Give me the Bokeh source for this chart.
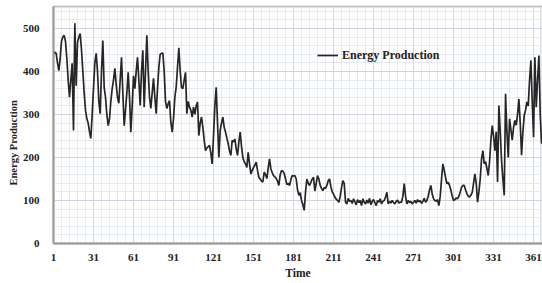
from bokeh.plotting import figure
from bokeh.models import FixedTicker, Range1d, Legend, LegendItem, ColumnDataSource, Title
from bokeh.embed import file_html
from bokeh.resources import INLINE

production = [
    440, 445, 442, 420, 402, 430, 470, 480, 484, 470, 430, 380, 340, 380, 419, 263, 512, 367, 468, 480,
    488, 450, 400, 350, 310, 290, 280, 260, 244, 300,
    360, 420, 442, 400, 330, 302, 400, 472, 363, 340, 300, 274, 290, 330, 360, 380, 407, 370, 340, 326,
    380, 433, 350, 274, 310, 350, 398, 340, 259, 320,
    390, 360, 400, 433, 380, 321, 400, 449, 317, 400, 484, 400, 340, 314, 350, 384, 340, 302, 360, 410,
    440, 442, 443, 400, 330, 314, 325, 332, 282, 259,
    290, 340, 363, 410, 455, 400, 363, 360, 380, 398, 302, 330, 317, 310, 294, 317, 300, 320, 329, 251,
    280, 294, 270, 240, 216, 222, 225, 228, 210, 185,
    250, 320, 363, 280, 200, 263, 280, 294, 270, 259, 245, 232, 215, 205, 240, 236, 243, 220, 205, 235,
    259, 225, 200, 190, 185, 177, 212, 185, 162, 170,
    177, 182, 189, 170, 154, 150, 145, 143, 166, 160, 151, 175, 197, 174, 165, 158, 155, 151, 145, 135,
    160, 170, 168, 163, 150, 137, 140, 135, 148, 158,
    157, 158, 150, 125, 112, 118, 100, 90, 77, 120, 150, 140, 135, 142, 150, 154, 122, 140, 158, 150,
    135, 128, 123, 130, 128, 135, 146, 150, 132, 120,
    115, 108, 103, 100, 96, 110, 130, 146, 140, 96, 92, 105, 98, 100, 93, 104, 97, 90, 102, 95,
    100, 88, 104, 96, 92, 101, 94, 105, 90, 98,
    102, 95, 88, 100, 96, 104, 92, 98, 100, 108, 119, 92, 98, 94, 100, 95, 92, 98, 101, 94,
    96, 96, 110, 139, 110, 92, 100, 95, 98, 92,
    96, 100, 94, 102, 97, 100, 93, 98, 105, 96, 100, 110, 125, 135, 115, 104, 100, 98, 102, 88,
    110, 150, 185, 170, 154, 139, 142, 135, 124, 110,
    100, 102, 106, 104, 110, 120, 131, 135, 135, 125, 116, 110, 108, 112, 119, 140, 162, 140, 96, 120,
    150, 197, 216, 185, 190, 175, 158, 190, 240, 274,
    250, 216, 260, 143, 321, 260, 193, 150, 112, 348, 260, 200, 290, 265, 240, 270, 286, 275, 300, 336,
    280, 205, 260, 298, 310, 329, 320, 380, 426, 330, 247, 433, 317, 380, 437, 300, 232,
]
days = list(range(1, len(production) + 1))

x_ticks = [1, 31, 61, 91, 121, 151, 181, 211, 241, 271, 301, 331, 361]
y_ticks = [0, 100, 200, 300, 400, 500]
x_minor = [d for d in range(1, 368, 6)]
y_minor = [v for v in range(0, 560, 20)]

FONT = "Liberation Serif"

p = figure(width=542, height=283, output_backend="svg", toolbar_location=None,
           x_range=Range1d(1, 367.7), y_range=Range1d(0, 551),
           min_border_left=53, min_border_right=0, min_border_top=6, min_border_bottom=40)

src = ColumnDataSource(dict(day=days, value=production))
r = p.line("day", "value", source=src, line_color="#262626", line_width=1.7)

p.xaxis.ticker = FixedTicker(ticks=x_ticks, minor_ticks=x_minor)
p.yaxis.ticker = FixedTicker(ticks=y_ticks, minor_ticks=y_minor)

for ax in (p.xaxis[0], p.yaxis[0]):
    ax.major_label_text_font = FONT
    ax.major_label_text_font_style = "bold"
    ax.major_label_text_font_size = "11px"
    ax.major_label_text_color = "#222222"
    ax.axis_label_text_font = FONT
    ax.axis_label_text_font_style = "bold"
    ax.axis_label_text_font_size = "11.5px"
    ax.axis_label_text_color = "#222222"
    ax.major_tick_line_color = None
    ax.minor_tick_line_color = None
    ax.axis_line_color = "#9a9a9a"
    ax.axis_line_width = 2

p.xaxis.axis_label = "Time"
p.xaxis.major_label_standoff = 4
p.xaxis.axis_label_standoff = 3
p.yaxis.major_label_standoff = 8

# y-axis title, sitting a little below the frame centre as in the reference
ytitle = Title(text="Energy Production", align="left", offset=58, standoff=2,
               text_font=FONT, text_font_style="bold", text_font_size="10.5px",
               text_color="#222222")
p.add_layout(ytitle, "left")

p.xgrid.grid_line_color = "#cdd6e1"
p.ygrid.grid_line_color = "#cdd6e1"
p.xgrid.minor_grid_line_color = "#e4eaf1"
p.ygrid.minor_grid_line_color = "#e4eaf1"

p.outline_line_color = "#c4c4c4"
p.outline_line_width = 2
p.background_fill_color = "white"
p.border_fill_color = "white"

legend = Legend(items=[LegendItem(label="Energy Production", renderers=[r])],
                location=(264, 178), padding=0, margin=0, spacing=0,
                glyph_width=21, glyph_height=20, label_height=20, label_standoff=4,
                label_text_font=FONT, label_text_font_style="bold", label_text_font_size="12px",
                label_text_color="#222222",
                background_fill_alpha=0, border_line_color=None)
p.add_layout(legend)

open("out.html", "w").write(file_html(p, INLINE))
